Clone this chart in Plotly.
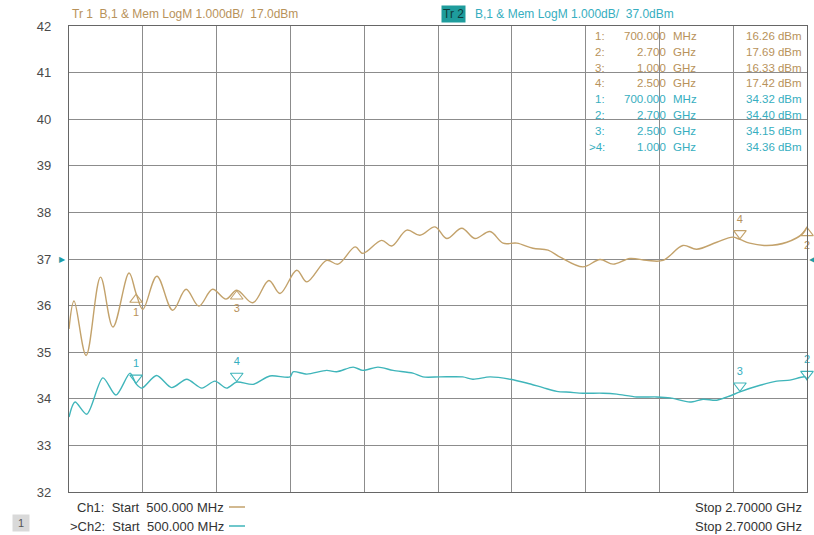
import plotly.graph_objects as go

# ---------------- data ----------------
start_ghz = 0.5
stop_ghz = 2.7
ref_pos = 37.0          # display reference position (dB grid)
tr1_ref = 17.0          # Tr1 reference level dBm
tr2_ref = 37.0          # Tr2 reference level dBm
y_ticks = [32, 33, 34, 35, 36, 37, 38, 39, 40, 41, 42]

freq1 = [0.500, 0.515, 0.551, 0.594, 0.631, 0.679, 0.700, 0.720, 0.762, 0.809,
         0.849, 0.887, 0.928, 0.968, 1.000, 1.048, 1.096, 1.129, 1.179, 1.209,
         1.268, 1.302, 1.353, 1.376, 1.432, 1.462, 1.507, 1.546, 1.591, 1.626,
         1.671, 1.710, 1.755, 1.794, 1.835, 1.883, 1.928, 1.964, 2.032, 2.083,
         2.122, 2.172, 2.222, 2.271, 2.330, 2.371, 2.431, 2.478, 2.500, 2.529,
         2.580, 2.640, 2.688, 2.700]
tr1_dbm = [15.50, 16.10, 14.93, 16.61, 15.54, 16.70, 16.26, 15.92, 16.63, 15.90,
           16.35, 15.99, 16.35, 16.14, 16.33, 16.06, 16.54, 16.26, 16.76, 16.51,
           16.97, 16.89, 17.26, 17.12, 17.40, 17.28, 17.62, 17.51, 17.69, 17.44,
           17.66, 17.44, 17.59, 17.34, 17.34, 17.23, 17.19, 17.04, 16.83, 16.99,
           16.89, 17.01, 16.97, 16.97, 17.29, 17.21, 17.36, 17.47, 17.42, 17.34,
           17.29, 17.36, 17.55, 17.69]

freq2 = [0.500, 0.518, 0.553, 0.601, 0.640, 0.682, 0.700, 0.717, 0.761, 0.806,
         0.851, 0.896, 0.935, 0.970, 1.000, 1.049, 1.099, 1.159, 1.168, 1.209,
         1.268, 1.298, 1.347, 1.376, 1.421, 1.466, 1.525, 1.555, 1.606, 1.674,
         1.704, 1.755, 1.815, 1.864, 1.913, 1.954, 1.994, 2.032, 2.092, 2.133,
         2.192, 2.252, 2.292, 2.351, 2.390, 2.431, 2.470, 2.500, 2.560, 2.610,
         2.649, 2.694, 2.700]
tr2_dbm = [33.61, 33.93, 33.67, 34.45, 34.08, 34.55, 34.32, 34.23, 34.50, 34.24,
           34.42, 34.23, 34.38, 34.23, 34.36, 34.31, 34.49, 34.47, 34.58, 34.53,
           34.61, 34.58, 34.68, 34.61, 34.68, 34.61, 34.55, 34.47, 34.47, 34.47,
           34.42, 34.47, 34.42, 34.34, 34.24, 34.16, 34.14, 34.12, 34.12, 34.10,
           34.04, 34.04, 34.02, 33.93, 33.99, 33.97, 34.06, 34.15, 34.29, 34.38,
           34.40, 34.47, 34.40]

tr1_mk_id = ["1", "2", "3", "4"]
tr1_mk_f = [0.700, 2.700, 1.000, 2.500]
tr1_mk_dbm = [16.26, 17.69, 16.33, 17.42]

tr2_mk_id = ["1", "2", "3", "4"]
tr2_mk_f = [0.700, 2.700, 2.500, 1.000]
tr2_mk_dbm = [34.32, 34.40, 34.15, 34.36]

# ---------------- styles ----------------
C1 = "#C3A26B"      # Tr1 trace
C1T = "#B8925A"     # Tr1 text
C2 = "#3FB5BA"      # Tr2 trace
C2T = "#36AEC0"     # Tr2 text
FONT = "Liberation Sans"

L, R, T, B = 69, 807, 26, 492
W, H = 814, 535


def px(x):
    return (x - L) / (R - L)


def py(y):
    return (B - y) / (B - T)


def disp1(v):
    return v - tr1_ref + ref_pos


def disp2(v):
    return v - tr2_ref + ref_pos


def nb(s):
    return s.replace(" ", "\u00a0")


fig = go.Figure()

fig.add_trace(go.Scatter(x=freq1, y=[disp1(v) for v in tr1_dbm], mode="lines",
                         line=dict(color=C1, width=1.4, shape="spline", smoothing=1.0),
                         hoverinfo="skip", showlegend=False))
fig.add_trace(go.Scatter(x=freq2, y=[disp2(v) for v in tr2_dbm], mode="lines",
                         line=dict(color=C2, width=1.4, shape="spline", smoothing=0.8),
                         hoverinfo="skip", showlegend=False))

# marker triangles
off = 0.13
up_ids = {"1", "2", "3"}  # Tr1 markers drawn below trace
for mid, f, v in zip(tr1_mk_id, tr1_mk_f, tr1_mk_dbm):
    d = disp1(v)
    if mid in up_ids:
        fig.add_trace(go.Scatter(x=[f], y=[d - off], mode="markers+text",
                                 marker=dict(symbol="triangle-up-open", size=11,
                                             color=C1, line=dict(width=1.1, color=C1)),
                                 text=[mid], textposition="bottom center",
                                 textfont=dict(family=FONT, size=11, color=C1T),
                                 cliponaxis=False, hoverinfo="skip", showlegend=False))
    else:
        fig.add_trace(go.Scatter(x=[f], y=[d + off], mode="markers+text",
                                 marker=dict(symbol="triangle-down-open", size=11,
                                             color=C1, line=dict(width=1.1, color=C1)),
                                 text=[mid], textposition="top center",
                                 textfont=dict(family=FONT, size=11, color=C1T),
                                 cliponaxis=False, hoverinfo="skip", showlegend=False))
for mid, f, v in zip(tr2_mk_id, tr2_mk_f, tr2_mk_dbm):
    d = disp2(v)
    fig.add_trace(go.Scatter(x=[f], y=[d + off], mode="markers+text",
                             marker=dict(symbol="triangle-down-open", size=11,
                                         color=C2, line=dict(width=1.1, color=C2)),
                             text=[mid], textposition="top center",
                             textfont=dict(family=FONT, size=11, color=C2T),
                             cliponaxis=False, hoverinfo="skip", showlegend=False))

annotations = []

# header
annotations.append(dict(xref="paper", yref="paper", x=px(70), y=py(14), xanchor="left",
                        yanchor="middle", showarrow=False,
                        text=nb("Tr 1  B,1 & Mem LogM 1.000dB/  17.0dBm"),
                        font=dict(family=FONT, size=12, color=C1T)))
annotations.append(dict(xref="paper", yref="paper", x=px(441), y=py(14), xanchor="left",
                        yanchor="middle", showarrow=False, text=nb("Tr 2"),
                        bgcolor="#1E9C9C", borderpad=1,
                        font=dict(family=FONT, size=12, color="#0E3B3B")))
annotations.append(dict(xref="paper", yref="paper", x=px(473), y=py(14), xanchor="left",
                        yanchor="middle", showarrow=False,
                        text=nb("B,1 & Mem LogM 1.000dB/  37.0dBm"),
                        font=dict(family=FONT, size=12, color=C2T)))


def fmt_f(f):
    if f < 1.0:
        return "%.3f" % (f * 1000), "MHz"
    return "%.3f" % f, "GHz"


rows = []
for mid, f, v in zip(tr1_mk_id, tr1_mk_f, tr1_mk_dbm):
    rows.append((mid + ":", f, v, C1T))
for mid, f, v in zip(tr2_mk_id, tr2_mk_f, tr2_mk_dbm):
    idx = (">" + mid + ":") if mid == "4" else (mid + ":")
    rows.append((idx, f, v, C2T))

y0, dy = 36.0, 15.8
TS = 11.5
for i, (idx, f, v, col) in enumerate(rows):
    yy = py(y0 + i * dy)
    fv, unit = fmt_f(f)
    annotations.append(dict(xref="paper", yref="paper", x=px(607), y=yy, xanchor="right",
                            yanchor="middle", showarrow=False, text=idx,
                            font=dict(family=FONT, size=TS, color=col)))
    annotations.append(dict(xref="paper", yref="paper", x=px(668), y=yy, xanchor="right",
                            yanchor="middle", showarrow=False, text=fv,
                            font=dict(family=FONT, size=TS, color=col)))
    annotations.append(dict(xref="paper", yref="paper", x=px(671), y=yy, xanchor="left",
                            yanchor="middle", showarrow=False, text=unit,
                            font=dict(family=FONT, size=TS, color=col)))
    annotations.append(dict(xref="paper", yref="paper", x=px(804), y=yy, xanchor="right",
                            yanchor="middle", showarrow=False, text=nb("%.2f dBm" % v),
                            font=dict(family=FONT, size=TS, color=col)))

# reference arrows
annotations.append(dict(xref="paper", yref="y", x=px(68), y=ref_pos, xanchor="right",
                        yanchor="middle", showarrow=False, text="\u25B6",
                        font=dict(family="DejaVu Sans", size=8, color="#1E9CA8")))
annotations.append(dict(xref="paper", yref="y", x=px(807), y=ref_pos, xanchor="left",
                        yanchor="middle", showarrow=False, text="\u25C0",
                        font=dict(family="DejaVu Sans", size=8, color="#1E9CA8")))

# footer
FS = 13
start_txt = "%.3f MHz" % (start_ghz * 1000)
stop_txt = "Stop %.5f GHz" % stop_ghz
annotations.append(dict(xref="paper", yref="paper", x=px(75), y=py(507), xanchor="left",
                        yanchor="middle", showarrow=False, text=nb("Ch1:  Start  " + start_txt),
                        font=dict(family=FONT, size=FS, color="#333333")))
annotations.append(dict(xref="paper", yref="paper", x=px(68), y=py(526), xanchor="left",
                        yanchor="middle", showarrow=False, text=nb(">Ch2:  Start  " + start_txt),
                        font=dict(family=FONT, size=FS, color="#333333")))
annotations.append(dict(xref="paper", yref="paper", x=px(804), y=py(507), xanchor="right",
                        yanchor="middle", showarrow=False, text=nb(stop_txt),
                        font=dict(family=FONT, size=FS, color="#333333")))
annotations.append(dict(xref="paper", yref="paper", x=px(804), y=py(526), xanchor="right",
                        yanchor="middle", showarrow=False, text=nb(stop_txt),
                        font=dict(family=FONT, size=FS, color="#333333")))
annotations.append(dict(xref="paper", yref="paper", x=px(21), y=py(523), xanchor="center",
                        yanchor="middle", showarrow=False, text=nb(" 1 "),
                        bgcolor="#D9D9D9", borderpad=2,
                        font=dict(family=FONT, size=11, color="#555555")))

shapes = [
    dict(type="line", xref="paper", yref="paper", x0=px(229), x1=px(245), y0=py(507),
         y1=py(507), line=dict(color=C1, width=1.5)),
    dict(type="line", xref="paper", yref="paper", x0=px(229), x1=px(245), y0=py(526),
         y1=py(526), line=dict(color=C2, width=1.5)),
]

grid_x = [start_ghz + (stop_ghz - start_ghz) * k / 10 for k in range(11)]

fig.update_layout(
    width=W, height=H,
    margin=dict(l=L, r=W - R, t=T, b=H - B, pad=0),
    paper_bgcolor="white", plot_bgcolor="white",
    annotations=annotations, shapes=shapes,
    xaxis=dict(range=[start_ghz, stop_ghz], tickvals=grid_x, showticklabels=False,
               showgrid=True, gridcolor="#8C8C8C", gridwidth=1.3, zeroline=False,
               showline=True, linecolor="#666666", linewidth=1.3, mirror=True,
               ticks=""),
    yaxis=dict(range=[32, 42], tickvals=y_ticks, ticktext=[str(v) for v in y_ticks],
               showgrid=True, gridcolor="#8C8C8C", gridwidth=1.3, zeroline=False,
               showline=True, linecolor="#666666", linewidth=1.3, mirror=True,
               ticks="", ticklabelstandoff=14,
               tickfont=dict(family=FONT, size=13, color="#4A4A4A")),
    font=dict(family=FONT),
)

fig.write_html("out.html", config={"displayModeBar": False},
               post_script="document.body.style.margin='0';"
                           "document.body.style.overflow='hidden';")
